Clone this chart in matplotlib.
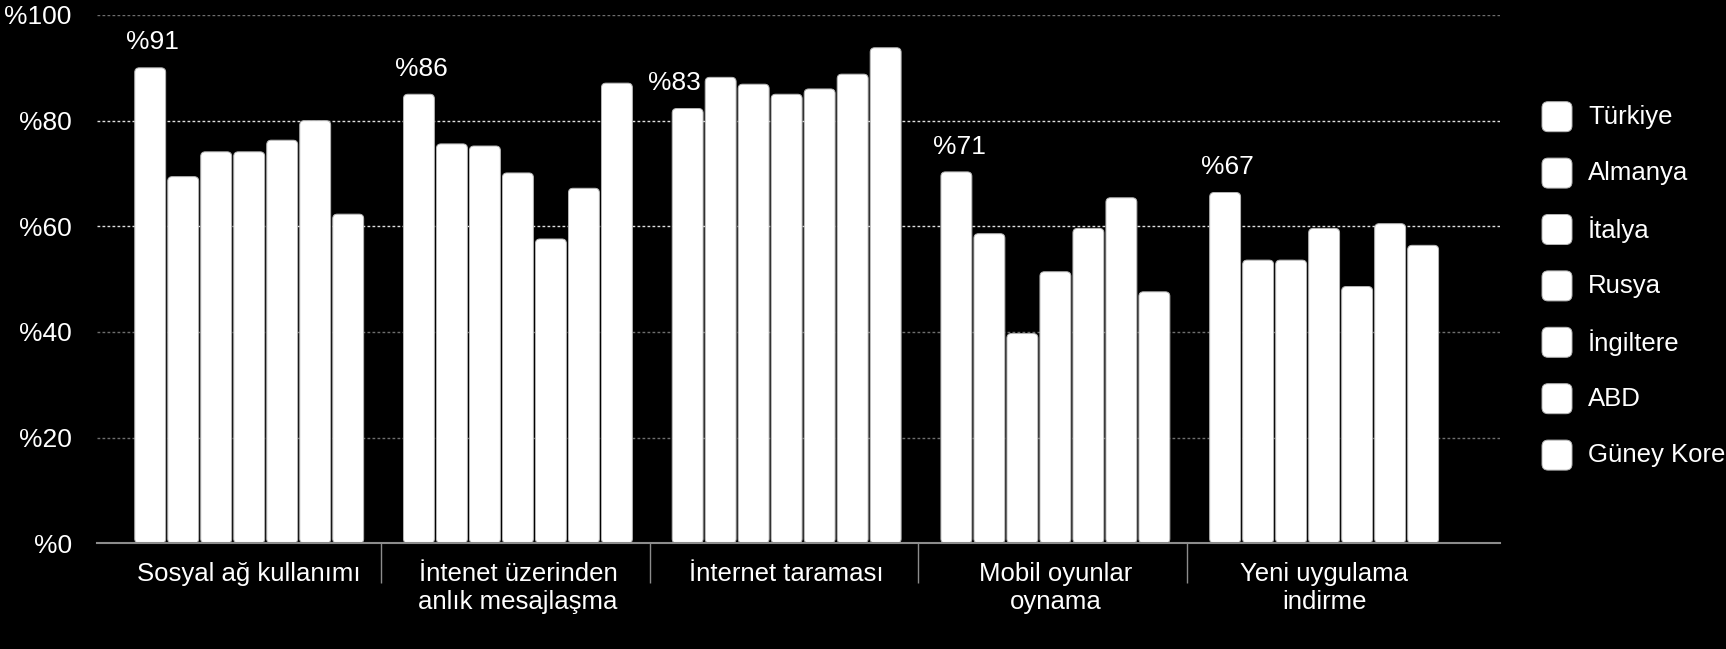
import matplotlib
matplotlib.use("Agg")
import matplotlib.pyplot as plt
import numpy as np
from matplotlib.patches import FancyBboxPatch

plt.rcParams['font.family'] = ['Liberation Sans', 'DejaVu Sans']

# data
categories = ["Sosyal ağ kullanımı", "İntenet üzerinden\nanlık mesajlaşma",
              "İnternet taraması", "Mobil oyunlar\noynama", "Yeni uygulama\nindirme"]
countries = ["Türkiye", "Almanya", "İtalya", "Rusya", "İngiltere", "ABD", "Güney Kore"]
turkiye = [90, 85, 82.3, 70.3, 66.4]
almanya = [69.4, 75.6, 88.2, 58.6, 53.6]
italya = [74.1, 75.2, 86.9, 39.7, 53.6]
rusya = [74.1, 70.1, 85.0, 51.4, 59.6]
ingiltere = [76.3, 57.6, 86.0, 59.6, 48.6]
abd = [80.0, 67.2, 88.8, 65.4, 60.5]
guney_kore = [62.3, 87.1, 93.8, 47.6, 56.4]
top_labels = ["%91", "%86", "%83", "%71", "%67"]
yticks = [0, 20, 40, 60, 80, 100]

series = [turkiye, almanya, italya, rusya, ingiltere, abd, guney_kore]

fig = plt.figure(figsize=(17.26, 6.49), dpi=100, facecolor='black')
ax = fig.add_axes([0.0561, 0.1629, 0.8132, 0.8140])
ax.set_facecolor('black')
ax.set_xlim(-0.567, 4.656)
ax.set_ylim(0, 100)

# gridlines
for v in yticks[1:]:
    col = '#e0e0e0' if v in (60, 80) else '#6e6e6e'
    ax.axhline(v, color=col, lw=1, ls=(0, (2, 1.6)), zorder=0)

# rounded bars
bb = ax.get_window_extent()
px_x = bb.width / (ax.get_xlim()[1] - ax.get_xlim()[0])
px_y = bb.height / (ax.get_ylim()[1] - ax.get_ylim()[0])
aspect = px_x / px_y
rad = 4.5 / px_x

x = np.arange(len(categories))
pitch = 0.1228
width = 0.1150
for j, vals in enumerate(series):
    bars = ax.bar(x + (j - 3) * pitch, vals, width, color='white')
    for r in bars:
        p = FancyBboxPatch((r.get_x(), r.get_y()), r.get_width(), r.get_height(),
                           boxstyle=f"round,pad=0,rounding_size={rad}",
                           mutation_aspect=aspect, fc='white', ec='#b5b5b5',
                           lw=0.7, zorder=2)
        ax.add_patch(p)
        r.remove()

# value labels above Türkiye bars
for i, lab in enumerate(top_labels):
    xi = x[i] - 3 * pitch + 0.01
    if series[1][i] > series[0][i] + 4:
        xi -= 0.06
    ax.text(xi, series[0][i] + 4.8, lab, color='white', fontsize=19,
            ha='center', va='center')

for s in ['top', 'right', 'left']:
    ax.spines[s].set_visible(False)
ax.spines['bottom'].set_color('#8c8c8c')
ax.spines['bottom'].set_linewidth(1.5)

ax.set_yticks(yticks)
ax.set_yticklabels([f"%{v}" for v in yticks])
ax.tick_params(axis='y', length=0, pad=18, labelsize=19, labelcolor='white')

ax.set_xticks(x)
ax.set_xticklabels(categories, linespacing=1.2)
ax.tick_params(axis='x', which='major', length=0, pad=13.5, labelsize=18.5, labelcolor='white')
ax.set_xticks(x[:-1] + 0.49, minor=True)
ax.tick_params(axis='x', which='minor', length=29, width=1, color='#8c8c8c', direction='out')

# legend
lx0, lw_ = 1542, 30
ly0, lstep = 116.7, 56.4
H, W = 649, 1726
for k, name in enumerate(countries):
    yc = ly0 + k * lstep
    sq = FancyBboxPatch((lx0 / W, (H - yc - lw_ / 2) / H), lw_ / W, lw_ / H,
                        boxstyle="round,pad=0,rounding_size=0.0035",
                        mutation_aspect=W / H, transform=fig.transFigure,
                        fc='white', ec='#b5b5b5', lw=0.7)
    fig.add_artist(sq)
    fig.text(1588 / W, (H - yc) / H, name, color='white', fontsize=18.5,
             ha='left', va='center')

fig.savefig('out.png', dpi=100, facecolor='black')
